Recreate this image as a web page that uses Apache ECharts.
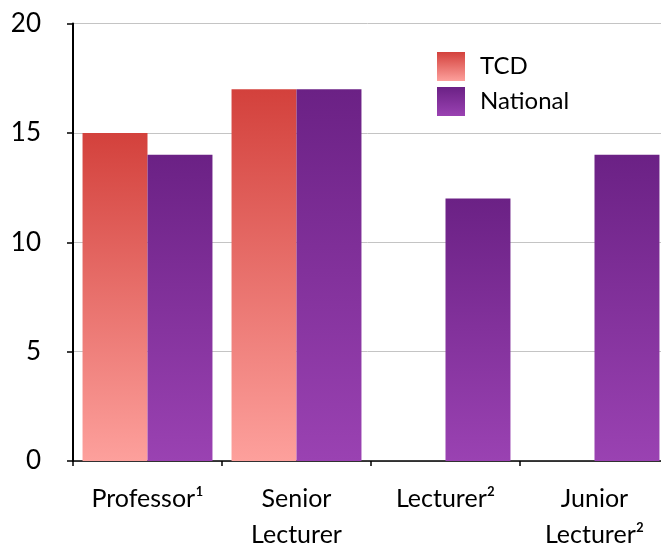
<!DOCTYPE html>
<html>
<head>
<meta charset="utf-8">
<script src="https://cdn.jsdelivr.net/npm/echarts@6/dist/echarts.min.js"></script>
<style>
  html, body { margin: 0; padding: 0; background: #fff; }
  #chart { width: 661px; height: 545px; }
</style>
</head>
<body>
<div id="chart"></div>
<script>
// Staff grades on the category axis
const categories = ['Professor¹', 'Senior\nLecturer', 'Lecturer²', 'Junior\nLecturer²'];
// Values per grade
const tcdValues = [15, 17, 0, 0];
const nationalValues = [14, 17, 12, 14];
// Value axis range and step
const yMin = 0;
const yMax = 20;
const yStep = 5;

const FONT = 'Lato';

function vGrad(top, bottom) {
  return new echarts.graphic.LinearGradient(0, 0, 0, 1, [
    { offset: 0, color: top },
    { offset: 1, color: bottom }
  ]);
}

const chart = echarts.init(document.getElementById('chart'), null, { renderer: 'canvas' });

chart.setOption({
  animation: false,
  backgroundColor: '#ffffff',
  textStyle: { fontFamily: FONT },
  grid: {
    left: 73, top: 23.5, width: 596, height: 437.5,
    containLabel: false,
    outerBoundsMode: 'none'
  },
  legend: {
    orient: 'vertical',
    left: 432,
    top: 47,
    itemWidth: 28,
    itemHeight: 29,
    itemGap: 6,
    icon: 'rect',
    textStyle: { fontFamily: FONT, fontSize: 24, color: '#000', padding: [0, 0, 0, 10] },
    data: ['TCD', 'National']
  },
  xAxis: {
    type: 'category',
    data: categories,
    axisLine: { show: true, lineStyle: { color: '#000', width: 1.5 } },
    axisTick: { show: true, length: 5, lineStyle: { color: '#000', width: 1.5 } },
    axisLabel: {
      interval: 0,
      margin: 20,
      fontFamily: FONT,
      fontSize: 25,
      lineHeight: 36,
      color: '#000'
    }
  },
  yAxis: {
    type: 'value',
    min: yMin,
    max: yMax,
    interval: yStep,
    axisLine: { show: true, lineStyle: { color: '#000', width: 2 } },
    axisTick: { show: true, length: 6, lineStyle: { color: '#000', width: 1.5 } },
    axisLabel: { margin: 32, fontFamily: FONT, fontSize: 26, color: '#000' },
    splitLine: { show: true, lineStyle: { color: '#c4c4c4', width: 1 } }
  },
  series: [
    {
      name: 'TCD',
      type: 'bar',
      data: tcdValues,
      barGap: '0%',
      barCategoryGap: '12.8%',
      itemStyle: { color: vGrad('#d3413c', '#fda09c') }
    },
    {
      name: 'National',
      type: 'bar',
      data: nationalValues,
      barGap: '0%',
      barCategoryGap: '12.8%',
      itemStyle: { color: vGrad('#6b2185', '#9a42b2') }
    }
  ]
});
</script>
</body>
</html>
